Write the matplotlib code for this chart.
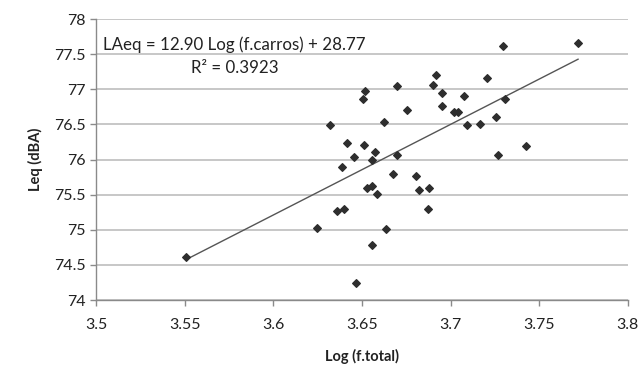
import matplotlib
matplotlib.use("Agg")
import matplotlib.pyplot as plt
import numpy as np

# data
log_total = [3.5507, 3.6244, 3.6319, 3.6362, 3.6389, 3.6398, 3.6413, 3.6456, 3.6464,
             3.6507, 3.6511, 3.6520, 3.6529, 3.6554, 3.6554, 3.6554, 3.6575, 3.6586,
             3.6625, 3.6635, 3.6674, 3.6695, 3.6700, 3.6753, 3.6806, 3.6823, 3.6870,
             3.6877, 3.6903, 3.6918, 3.6949, 3.6952, 3.7020, 3.7043, 3.7073, 3.7095,
             3.7168, 3.7204, 3.7255, 3.7266, 3.7298, 3.7307, 3.7424, 3.7719]
leq = [74.61, 75.03, 76.49, 75.26, 75.89, 75.29, 76.24, 76.03, 74.24,
       76.86, 76.21, 76.97, 75.59, 75.62, 75.99, 74.79, 76.11, 75.51,
       76.53, 75.01, 75.79, 77.04, 76.07, 76.71, 75.76, 75.56, 75.29,
       75.59, 77.06, 77.21, 76.76, 76.94, 76.67, 76.67, 76.91, 76.49,
       76.51, 77.16, 76.61, 76.06, 77.61, 76.86, 76.19, 77.66]
slope = 12.90
intercept = 28.77
r2 = 0.3923

xticks = [3.5, 3.55, 3.6, 3.65, 3.7, 3.75, 3.8]
xticklabels = ["3.5", "3.55", "3.6", "3.65", "3.7", "3.75", "3.8"]
yticks = [74, 74.5, 75, 75.5, 76, 76.5, 77, 77.5, 78]
yticklabels = ["74", "74.5", "75", "75.5", "76", "76.5", "77", "77.5", "78"]

plt.rcParams['font.family'] = ['Lato', 'DejaVu Sans']

fig = plt.figure(figsize=(6.42, 3.77), dpi=100)
ax = fig.add_axes([0.1495, 0.2042, 0.8285, 0.7454])

ax.set_xlim(3.5, 3.8)
ax.set_ylim(74, 78)
ax.set_xticks(xticks)
ax.set_xticklabels(xticklabels)
ax.set_yticks(yticks)
ax.set_yticklabels(yticklabels)

ax.grid(axis='y', color='#b8b8b8', linewidth=1.1)
ax.set_axisbelow(True)
for s in ['top', 'right']:
    ax.spines[s].set_visible(False)
for s in ['left', 'bottom']:
    ax.spines[s].set_color('#8a8a8a')
    ax.spines[s].set_linewidth(1.0)
ax.tick_params(axis='both', colors='#8a8a8a', labelcolor='#222222',
               labelsize=11.5, length=4, width=1)
ax.tick_params(axis='x', pad=9)

ax.scatter(log_total, leq, marker='D', s=15, color='#2e2e2e', zorder=3)

xs = np.array([min(log_total), max(log_total)])
ax.plot(xs, slope * xs + intercept, color='#555555', linewidth=1.0, zorder=2)

ax.text(0.013, 0.907, "LAeq = %.2f Log (f.carros) + %.2f" % (slope, intercept),
        transform=ax.transAxes, fontsize=12.2, color='#222222', va='center', ha='left')
ax.text(0.261, 0.826, "R² = %.4f" % r2, transform=ax.transAxes,
        fontsize=12.2, color='#222222', va='center', ha='center')

ax.set_xlabel("Log (f.total)", fontsize=10.5, fontweight='bold', color='#222222', labelpad=12)
ax.set_ylabel("Leq (dBA)", fontsize=10.5, fontweight='bold', color='#222222', labelpad=8)

fig.savefig("out.png", dpi=100, facecolor='white')
